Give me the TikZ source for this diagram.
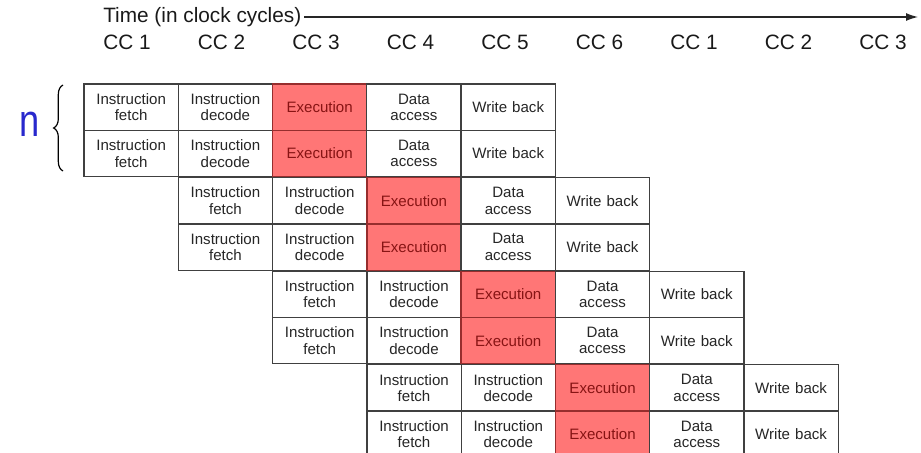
\documentclass[tikz,border=0pt]{standalone}
\usepackage{fontspec}
\setmainfont{Liberation Sans}
\usepackage{xcolor}
\usetikzlibrary{arrows.meta, positioning, decorations.pathreplacing}

\definecolor{execred}{RGB}{255,118,118}
\definecolor{execborder}{RGB}{150,45,45}
\definecolor{exectext}{RGB}{135,20,20}
\definecolor{penblue}{RGB}{40,40,205}

\begin{document}
\begin{tikzpicture}[
    x=0.75pt, y=-0.75pt,
    >=Stealth,
    stage/.style={rectangle, draw=black!75, fill=white, line width=1pt, outer sep=0pt, inner sep=1pt, minimum width=70.7pt, minimum height=34.7pt, text width=66pt, align=center, font=\fontsize{11.3}{12.3}\selectfont, text=black!85},
    execstage/.style={stage, draw=execborder, fill=execred, text=exectext},
    cclbl/.style={font=\fontsize{15.6}{18}\selectfont, text=black!90, inner sep=0pt},
    line/.style={draw=black!85, line width=0.9pt, -{Latex[length=9pt,width=6pt]}}
]
    \useasboundingbox (0,0) rectangle (921,453);
    \clip (0,0) rectangle (921,453);

    % Eje de tiempo
    \node [cclbl, anchor=west] (time) at (103,17) {Time (in clock cycles)};
    \coordinate (timeend) at (918,17);
    \draw [line, shorten <=2pt] (time.east) -- (timeend);

    \foreach \c [count=\i from 0] in {1,2,3,4,5,6,1,2,3}
        \node [cclbl] (cc\i) at ({127+94.5*\i},42) {CC \c};

    % Etapas del pipeline
    \foreach \r in {0,...,7} {
        \pgfmathtruncatemacro{\p}{\r/2}
        \pgfmathsetmacro{\xs}{84+94.3*\p}
        \pgfmathsetmacro{\ys}{84+93.6*\p+46.3*mod(\r,2)}
        \node [stage, anchor=north west] (c\r-0) at (\xs,\ys) {Instruction\\fetch};
        \node [stage, right=0pt of c\r-0] (c\r-1) {Instruction\\decode};
        \node [execstage, right=0pt of c\r-1] (c\r-2) {Execution};
        \node [stage, right=0pt of c\r-2] (c\r-3) {Data\\access};
        \node [stage, right=0pt of c\r-3] (c\r-4) {Write back};
    }

    % Llave y n
    \coordinate (bracebot) at (63,171);
    \coordinate (bracetop) at (63,85);
    \draw [decorate, decoration={brace, amplitude=7pt}, line width=0.9pt] (bracebot) -- (bracetop);
    \node [text=penblue, font=\fontsize{34}{34}\selectfont, xscale=0.8, inner sep=0pt] (nlbl) at (30,124) {n};

\end{tikzpicture}
\end{document}
